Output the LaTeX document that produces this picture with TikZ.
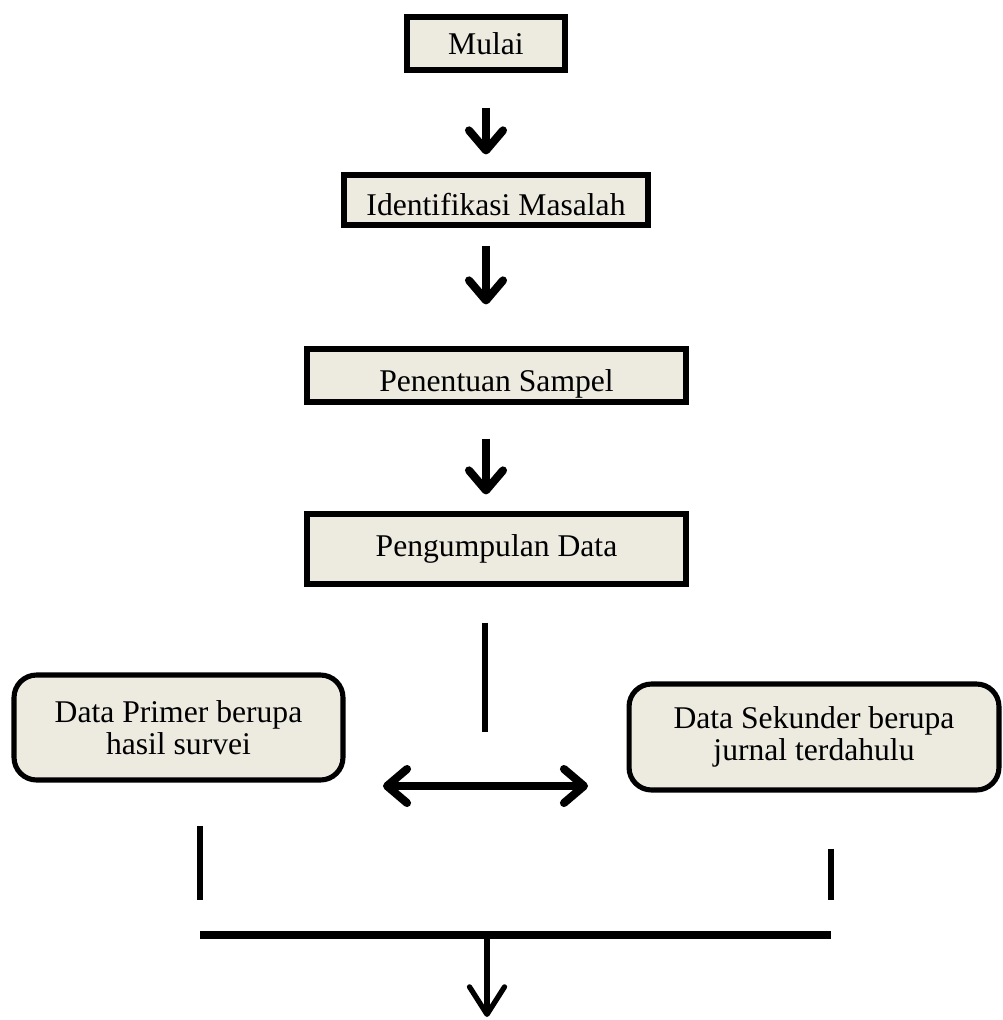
\documentclass[tikz,border=0pt]{standalone}
\usepackage{fontspec}
\setmainfont{Liberation Serif}
\usepackage{tikz}
\usetikzlibrary{shapes, arrows.meta, positioning}
\definecolor{boxfill}{RGB}{237,234,224}
\tikzset{every node/.style={font=\fontsize{18}{18.5}\selectfont},
         box/.style={ % Sets the properties for each step box
           draw, line width=2.9pt,
           fill=boxfill,
           align=center,
           inner sep=0pt},
         roundbox/.style={box, rounded corners=0.45cm},
         arr/.style={ % Bold arrows between the steps
           draw, line width=4.6pt,
           -{Straight Barb[length=0.4cm, width=0.68cm, round]}},
         dblarr/.style={arr,
           {Straight Barb[length=0.4cm, width=0.68cm, round]}-{Straight Barb[length=0.4cm, width=0.68cm, round]}},
         thinarr/.style={draw, line width=3pt,
           -{Straight Barb[length=0.55cm, width=0.7cm, round]}},
         bar/.style={draw, line width=3.8pt}}

\begin{document}
\begin{tikzpicture}[x=0.02cm, y=-0.02cm]
\useasboundingbox (0,0) rectangle (1003,1020);

\node[box, minimum width=3.16cm, minimum height=1.06cm] (mulai) at (486,43.5) {Mulai};
\node[box, minimum width=6.08cm, minimum height=1.0cm] (identifikasi) at (496,200) {\smash{\raisebox{-9pt}{Identifikasi Masalah}}};
\node[box, minimum width=7.58cm, minimum height=1.06cm] (penentuan) at (496.5,375.5) {\smash{\raisebox{-9pt}{Penentuan Sampel}}};
\node[box, minimum width=7.58cm, minimum height=1.40cm] (pengumpulan) at (496.5,549) {Pengumpulan Data};
\node[roundbox, minimum width=6.58cm, minimum height=2.1cm] (primer) at (178.5,727.5) {Data Primer berupa\\hasil survei};
\node[roundbox, minimum width=7.4cm, minimum height=2.12cm] (sekunder) at (814,737) {Data Sekunder berupa\\jurnal terdahulu};

\coordinate (ax) at (486,0);
\coordinate (split) at (485,732);
\coordinate (toL) at (383,786);
\coordinate (toR) at (588,786);
\coordinate (joinL) at (200,935);
\coordinate (joinR) at (831,935);
\coordinate (mid) at (487,935);
\coordinate (selesai) at (487,1017);

\draw[arr, shorten <=0.7cm, shorten >=0.36cm] (ax |- mulai.south) -- (ax |- identifikasi.north);
\draw[arr, shorten <=0.36cm, shorten >=0.84cm] (ax |- identifikasi.south) -- (ax |- penentuan.north);
\draw[arr, shorten <=0.68cm, shorten >=0.34cm] (ax |- penentuan.south) -- (ax |- pengumpulan.north);

\draw[bar, shorten <=0.72cm] (split |- pengumpulan.south) -- (split);
\draw[dblarr] (toL) -- (toR);

\draw[bar, shorten <=0.86cm, shorten >=0.7cm] (joinL |- primer.south) -- (joinL);
\draw[bar, shorten <=1.12cm, shorten >=0.7cm] (joinR |- sekunder.south) -- (joinR);
\draw[bar, line width=4.2pt] (joinL) -- (joinR);
\draw[thinarr] (mid) -- (selesai);

\end{tikzpicture}
\end{document}
